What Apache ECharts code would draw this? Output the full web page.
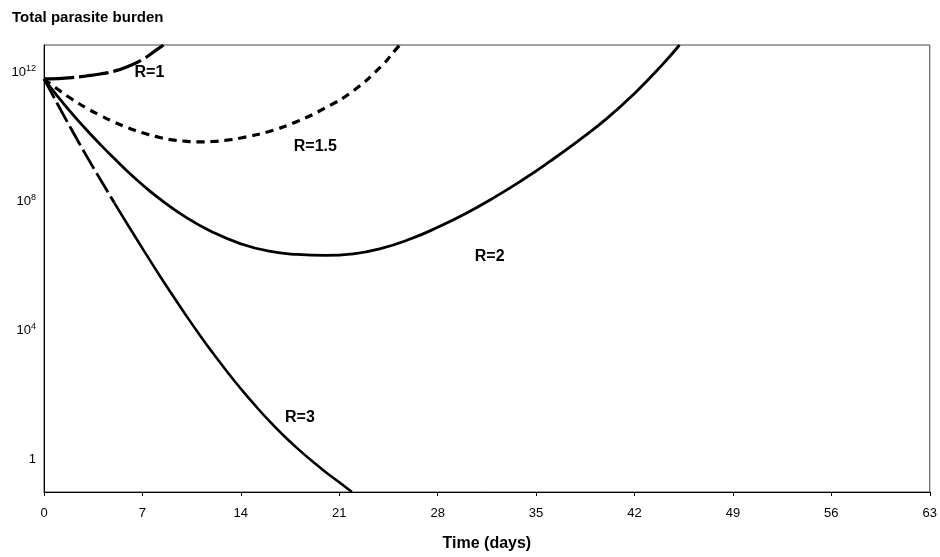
<!DOCTYPE html>
<html>
<head>
<meta charset="utf-8">
<script src="https://cdn.jsdelivr.net/npm/echarts@6/dist/echarts.min.js"></script>
<style>
  html, body { margin: 0; padding: 0; background: #fff; }
  #chart { width: 940px; height: 557px; }
</style>
</head>
<body>
<div id="chart"></div>
<script>
// time in days, burden as log10(parasites)
var daysR1 = [0, 1, 2, 3, 4, 5, 6, 7, 8, 8.5];
var logR1 = [11.8, 11.81, 11.84, 11.89, 11.95, 12.04, 12.19, 12.4, 12.7, 12.85];

var daysR15 = [0, 1, 2, 3, 4, 5, 6, 7, 8, 9, 10, 11, 12, 13, 14, 16, 18, 20, 22, 24, 25, 25.3];
var logR15 = [11.8, 11.47, 11.17, 10.9, 10.67, 10.46, 10.28, 10.13, 10.01, 9.92, 9.87, 9.85, 9.86, 9.9, 9.97, 10.17, 10.48, 10.9, 11.43, 12.2, 12.7, 12.85];

var daysR2 = [0, 1, 2, 3, 4, 5, 6, 7, 8, 10, 12, 14, 16, 18, 20, 22, 24, 26, 28, 30, 32, 34, 36, 38, 40, 42, 44, 45.2];
var logR2 = [11.8, 11.24, 10.72, 10.23, 9.77, 9.33, 8.91, 8.52, 8.16, 7.54, 7.05, 6.69, 6.46, 6.36, 6.33, 6.38, 6.55, 6.83, 7.2, 7.63, 8.12, 8.66, 9.25, 9.88, 10.56, 11.35, 12.25, 12.85];

var daysR3 = [0, 1, 2, 3, 4, 5, 6, 7, 8, 9, 10, 11, 12, 13, 14, 15, 16, 17, 18, 19, 20, 21, 21.9];
var logR3 = [11.8, 10.99, 10.2, 9.43, 8.69, 7.96, 7.25, 6.55, 5.86, 5.19, 4.54, 3.91, 3.31, 2.74, 2.2, 1.69, 1.21, 0.77, 0.36, -0.02, -0.37, -0.7, -1];

var xTicks = [0, 7, 14, 21, 28, 35, 42, 49, 56, 63];
var yTickExp = [0, 4, 8, 12];

var seriesNames = ['R=1', 'R=1.5', 'R=2', 'R=3'];
var labelDays = [7.5, 19.3, 31.7, 18.2];
var labelLog = [12.0, 9.7, 6.3, 1.3];

function pairs(xs, ys) {
    var out = [];
    for (var i = 0; i < xs.length; i++) {
        out.push([xs[i], ys[i]]);
    }
    return out;
}

function tag(i) {
    return {
        symbol: 'circle',
        symbolSize: 1,
        silent: true,
        itemStyle: {color: 'rgba(0,0,0,0)'},
        label: {
            show: true,
            position: 'inside',
            formatter: seriesNames[i],
            color: '#000',
            fontSize: 16,
            fontWeight: 'bold'
        },
        data: [{coord: [labelDays[i], labelLog[i]]}]
    };
}

var r3 = pairs(daysR3, logR3);
var r3Dashed = r3.filter(function (p) { return p[0] <= 5; });
var r3Solid = r3.filter(function (p) { return p[0] >= 5; });

var myChart = echarts.init(document.getElementById('chart'));
var option = {
    animation: false,
    backgroundColor: '#fff',
    textStyle: {fontFamily: 'Liberation Sans, Arial, sans-serif'},
    title: {
        text: 'Total parasite burden',
        left: 7,
        top: 5,
        textStyle: {fontSize: 15, fontWeight: 'bold', color: '#000'}
    },
    grid: {left: 44, right: 8, top: 45, bottom: 61, show: true, borderColor: '#444', borderWidth: 1},
    xAxis: {
        type: 'value',
        min: 0,
        max: 63,
        interval: 7,
        name: 'Time (days)',
        nameLocation: 'middle',
        nameGap: 44,
        nameTextStyle: {fontSize: 16, fontWeight: 'bold', color: '#000'},
        axisLine: {onZero: false, lineStyle: {color: '#000', width: 1}},
        axisTick: {length: 4, lineStyle: {color: '#000'}},
        axisLabel: {
            color: '#000', fontSize: 13, margin: 15,
            customValues: xTicks
        },
        splitLine: {show: false}
    },
    yAxis: {
        type: 'value',
        min: -1,
        max: 12.85,
        axisLine: {show: true, lineStyle: {color: '#000', width: 1}},
        axisTick: {show: false},
        splitLine: {show: false},
        axisLabel: {
            customValues: yTickExp,
            margin: 8,
            color: '#000',
            formatter: function (v) {
                if (v === 0) return '{b|1}';
                return '{b|10}{s|' + v + '}';
            },
            rich: {
                b: {fontSize: 13, color: '#000'},
                s: {fontSize: 9, color: '#000', padding: [0, 0, 8, 0]}
            }
        }
    },
    series: [
        {
            name: 'R=1', type: 'line', showSymbol: false, smooth: true,
            lineStyle: {color: '#000', width: 3.2, type: [30, 5]},
            data: pairs(daysR1, logR1),
            markPoint: tag(0)
        },
        {
            name: 'R=1.5', type: 'line', showSymbol: false, smooth: true,
            lineStyle: {color: '#000', width: 3.2, type: [8, 6]},
            data: pairs(daysR15, logR15),
            markPoint: tag(1)
        },
        {
            name: 'R=2', type: 'line', showSymbol: false, smooth: true,
            lineStyle: {color: '#000', width: 2.8},
            data: pairs(daysR2, logR2),
            markPoint: tag(2)
        },
        {
            name: 'R=3', type: 'line', showSymbol: false, smooth: true,
            lineStyle: {color: '#000', width: 2.8, type: [22, 5]},
            data: r3Dashed
        },
        {
            name: 'R=3', type: 'line', showSymbol: false, smooth: true,
            lineStyle: {color: '#000', width: 2.6},
            data: r3Solid,
            markPoint: tag(3)
        }
    ]
};
myChart.setOption(option, true);
</script>
</body>
</html>
